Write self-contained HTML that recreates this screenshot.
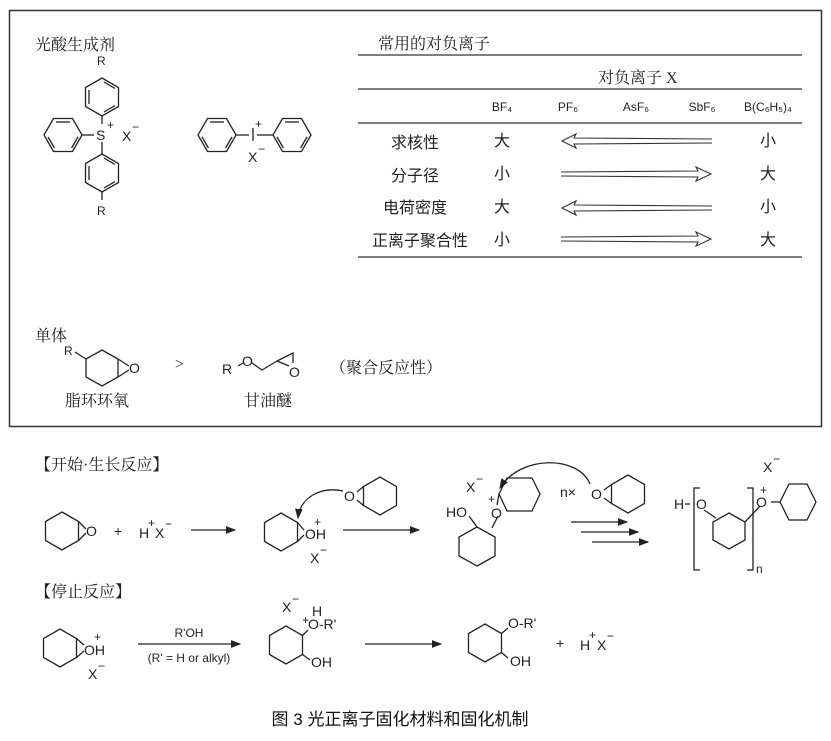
<!DOCTYPE html>
<html><head><meta charset="utf-8"><style>
body{margin:0;background:#fff}
svg{display:block}
text{font-family:"Liberation Sans","Noto Sans CJK SC",sans-serif;fill:#222}
.c{font-family:"Liberation Serif","Noto Serif CJK SC","Noto Sans CJK SC",serif;font-size:16px}
.s{font-size:14px}
.h{font-size:12px}
</style></head><body>
<svg width="831" height="741" viewBox="0 0 831 741" xmlns="http://www.w3.org/2000/svg">
<defs>
<g id="bz" fill="none" stroke="#222" stroke-width="1.3">
<polygon points="0,-19 16.5,-9.5 16.5,9.5 0,19 -16.5,9.5 -16.5,-9.5"/>
<line x1="2" y1="-15" x2="13" y2="-8.6"/><line x1="13" y1="8.6" x2="2" y2="15"/><line x1="-13" y1="7" x2="-13" y2="-7"/>
</g>
<g id="ch" fill="none" stroke="#222" stroke-width="1.3">
<polygon points="0,-19 16.5,-9.5 16.5,9.5 0,19 -16.5,9.5 -16.5,-9.5"/>
</g>
<marker id="ar" markerWidth="8" markerHeight="6" refX="7" refY="3" orient="auto"><path d="M0,0 L8,3 L0,6z" fill="#222"/></marker>
</defs>
<rect x="9.5" y="10.5" width="812" height="416" fill="none" stroke="#333" stroke-width="1.5"/>

<text x="35" y="50" class="c">光酸生成剂</text>
<text x="97" y="65" class="h">R</text>
<use href="#bz" x="102" y="97"/>
<line x1="102" y1="116" x2="102" y2="124" stroke="#222" stroke-width="1.3"/>
<text x="96" y="140" class="s">S</text><text x="107" y="129" class="h">+</text>
<text x="122" y="141" class="s">X</text><text x="132" y="131" class="h">−</text>
<use href="#bz" transform="translate(63,135) rotate(90)"/>
<line x1="82" y1="135" x2="94" y2="135" stroke="#222" stroke-width="1.3"/>
<line x1="102" y1="142" x2="102" y2="154" stroke="#222" stroke-width="1.3"/>
<use href="#bz" x="102" y="173"/>
<line x1="102" y1="192" x2="102" y2="200" stroke="#222" stroke-width="1.3"/>
<text x="97" y="215" class="h">R</text>

<use href="#bz" transform="translate(217,135) rotate(90)"/>
<use href="#bz" transform="translate(292,135) rotate(90)"/>
<line x1="236" y1="135" x2="249" y2="135" stroke="#222" stroke-width="1.3"/>
<line x1="257" y1="135" x2="273" y2="135" stroke="#222" stroke-width="1.3"/>
<line x1="253" y1="128" x2="253" y2="141" stroke="#222" stroke-width="1.3"/>
<text x="255" y="128" class="h">+</text>
<text x="248" y="162" class="s">X</text><text x="258" y="153" class="h">−</text>

<text x="378" y="49" class="c">常用的对负离子</text>
<line x1="358" y1="55" x2="802" y2="55" stroke="#333" stroke-width="1.3"/>
<text x="598" y="83" class="c">对负离子 X</text>
<line x1="358" y1="89" x2="802" y2="89" stroke="#333" stroke-width="1.3"/>
<g class="h" text-anchor="middle">
<text x="502" y="111">BF₄</text><text x="568" y="111">PF₆</text><text x="636" y="111">AsF₆</text><text x="702" y="111">SbF₆</text><text x="768" y="111">B(C₆H₅)₄</text>
</g>
<line x1="358" y1="123" x2="802" y2="123" stroke="#333" stroke-width="1.3"/>
<g class="c" text-anchor="middle" font-size="15">
<text x="415" y="148">求核性</text><text x="415" y="181">分子径</text><text x="415" y="213">电荷密度</text><text x="420" y="246">正离子聚合性</text>
</g>
<g class="c" text-anchor="middle" font-size="13">
<text x="502" y="146">大</text><text x="502" y="179">小</text><text x="502" y="212">大</text><text x="502" y="245">小</text>
<text x="768" y="146">小</text><text x="768" y="179">大</text><text x="768" y="212">小</text><text x="768" y="245">大</text>
</g>
<g fill="none" stroke="#333" stroke-width="1.1">
<path d="M712,139 L574,138 L576,134 L562,141 L576,148 L574,144 L712,143"/>
<path d="M712,206 L574,205 L576,201 L562,208 L576,215 L574,211 L712,210"/>
<path d="M561,172 L698,171 L696,167 L711,174 L696,181 L698,177 L561,176"/>
<path d="M561,237 L698,236 L696,232 L711,239 L696,246 L698,242 L561,241"/>
</g>
<line x1="358" y1="257" x2="802" y2="257" stroke="#333" stroke-width="1.3"/>

<text x="35" y="341" class="c">单体</text>
<text x="64" y="355" class="h">R</text>
<g fill="none" stroke="#222" stroke-width="1.3">
<line x1="75" y1="352" x2="86" y2="359"/>
<polygon points="102,350 118,359 118,377 102,386 86,377 86,359"/>
<line x1="118" y1="359" x2="129" y2="366"/><line x1="118" y1="377" x2="129" y2="370"/>
<path d="M238,366 L243,363 M252,363 L262,370 L277,361 M277,361 L293,353 L293,363 M277,361 L289,366"/>
</g>
<text x="129" y="373" class="s">O</text>
<text x="175" y="369" class="c">&gt;</text>
<text x="222" y="374" class="s">R</text><text x="242" y="366" class="s">O</text><text x="289" y="377" class="s">O</text>
<text x="330" y="373" class="c">（聚合反应性）</text>
<text x="97" y="406" class="c" text-anchor="middle">脂环环氧</text>
<text x="268" y="406" class="c" text-anchor="middle">甘油醚</text>

<text x="35" y="470" class="c">【开始·生长反应】</text>
<use href="#ch" x="62" y="531"/>
<g fill="none" stroke="#222" stroke-width="1.3">
<line x1="78.5" y1="521.5" x2="86" y2="529"/><line x1="78.5" y1="540.5" x2="86" y2="533"/>
</g>
<text x="86" y="536" class="s">O</text>
<text x="114" y="536" class="s">+</text>
<text x="139" y="538" class="s">H</text><text x="148" y="527" class="h">+</text><text x="155" y="538" class="s">X</text><text x="165" y="528" class="h">−</text>
<line x1="191" y1="530" x2="235" y2="530" stroke="#222" stroke-width="1.3" marker-end="url(#ar)"/>

<use href="#ch" x="281" y="532"/>
<g fill="none" stroke="#222" stroke-width="1.3">
<line x1="297.5" y1="522.5" x2="304" y2="530"/><line x1="297.5" y1="541.5" x2="304" y2="535"/>
</g>
<text x="305" y="539" class="s">OH</text><text x="314" y="526" class="h">+</text>
<text x="310" y="563" class="s">X</text><text x="320" y="554" class="h">−</text>
<use href="#ch" x="380" y="496"/>
<g fill="none" stroke="#222" stroke-width="1.3">
<line x1="363.5" y1="486.5" x2="357" y2="492"/><line x1="363.5" y1="505.5" x2="357" y2="500"/>
<path d="M343,491 C320,486 300,498 298,518" marker-end="url(#ar)"/>
</g>
<text x="344" y="501" class="s">O</text>
<line x1="343" y1="530" x2="419" y2="530" stroke="#222" stroke-width="1.3" marker-end="url(#ar)"/>

<text x="466" y="492" class="s">X</text><text x="476" y="483" class="h">−</text>
<g fill="none" stroke="#222" stroke-width="1.3">
<polygon points="507,478 532,478 540,494 532,511 507,511 499,494"/>
<line x1="499" y1="494" x2="497" y2="505"/>
<line x1="498" y1="516" x2="492" y2="528"/>
<polygon points="477,527 495,537 495,556 477,566 459,556 459,537"/>
<line x1="477" y1="527" x2="469" y2="516"/>
<path d="M590,484 C578,455 520,455 500,488" marker-end="url(#ar)"/>
</g>
<text x="446" y="517" class="s">HO</text>
<text x="491" y="518" class="s">O</text><text x="488" y="503" class="h">+</text>

<text x="560" y="497" class="s">n×</text>
<use href="#ch" x="628" y="494"/>
<g fill="none" stroke="#222" stroke-width="1.3">
<line x1="611.5" y1="484.5" x2="604" y2="490"/><line x1="611.5" y1="503.5" x2="604" y2="498"/>
</g>
<text x="591" y="499" class="s">O</text>
<g stroke="#222" stroke-width="1.3" marker-end="url(#ar)">
<line x1="571" y1="522" x2="627" y2="522"/><line x1="581" y1="532" x2="638" y2="532"/><line x1="592" y1="542" x2="648" y2="542"/>
</g>

<text x="674" y="509" class="s">H</text>
<g fill="none" stroke="#222" stroke-width="1.3">
<line x1="685" y1="504" x2="690" y2="504"/>
<path d="M700,488 L694,488 L694,570 L700,570"/>
<path d="M747,488 L753,488 L753,570 L747,570"/>
<line x1="704" y1="510" x2="716" y2="518"/>
<polygon points="729,513 745,522 745,540 729,549 713,540 713,522"/>
<line x1="745" y1="522" x2="760" y2="506"/>
<polygon points="789,484 807,484 816,502 807,520 789,520 780,502"/>
<line x1="780" y1="502" x2="771" y2="502"/>
</g>
<text x="696" y="509" class="s">O</text>
<text x="756" y="507" class="s">O</text><text x="760" y="494" class="h">+</text>
<text x="763" y="472" class="s">X</text><text x="773" y="463" class="h">−</text>
<text x="756" y="573" class="h">n</text>

<text x="35" y="597" class="c">【停止反应】</text>
<use href="#ch" x="60" y="648"/>
<g fill="none" stroke="#222" stroke-width="1.3">
<line x1="76.5" y1="638.5" x2="84" y2="645"/><line x1="76.5" y1="657.5" x2="84" y2="651"/>
</g>
<text x="84" y="655" class="s">OH</text><text x="94" y="641" class="h">+</text>
<text x="88" y="679" class="s">X</text><text x="98" y="670" class="h">−</text>
<line x1="138" y1="644" x2="240" y2="644" stroke="#222" stroke-width="1.3" marker-end="url(#ar)"/>
<text x="189" y="637" class="h" text-anchor="middle">R'OH</text>
<text x="189" y="662" class="h" text-anchor="middle">(R' = H or alkyl)</text>

<use href="#ch" x="286" y="645"/>
<g fill="none" stroke="#222" stroke-width="1.3">
<line x1="302.5" y1="635.5" x2="308" y2="630"/><line x1="302.5" y1="654.5" x2="310" y2="660"/>
</g>
<text x="282" y="612" class="s">X</text><text x="292" y="603" class="h">−</text>
<text x="312" y="616" class="s">H</text>
<text x="302" y="624" class="h">+</text><text x="308" y="629" class="s">O-R'</text>
<text x="311" y="667" class="s">OH</text>
<line x1="365" y1="644" x2="441" y2="644" stroke="#222" stroke-width="1.3" marker-end="url(#ar)"/>

<use href="#ch" x="485" y="643"/>
<g fill="none" stroke="#222" stroke-width="1.3">
<line x1="501.5" y1="633.5" x2="508" y2="628"/><line x1="501.5" y1="652.5" x2="508" y2="658"/>
</g>
<text x="508" y="628" class="s">O-R'</text>
<text x="510" y="666" class="s">OH</text>
<text x="556" y="648" class="s">+</text>
<text x="580" y="650" class="s">H</text><text x="589" y="639" class="h">+</text><text x="597" y="650" class="s">X</text><text x="607" y="640" class="h">−</text>

<text x="400" y="725" text-anchor="middle" font-size="17" style="fill:#111">图 3  光正离子固化材料和固化机制</text>
</svg>
</body></html>
